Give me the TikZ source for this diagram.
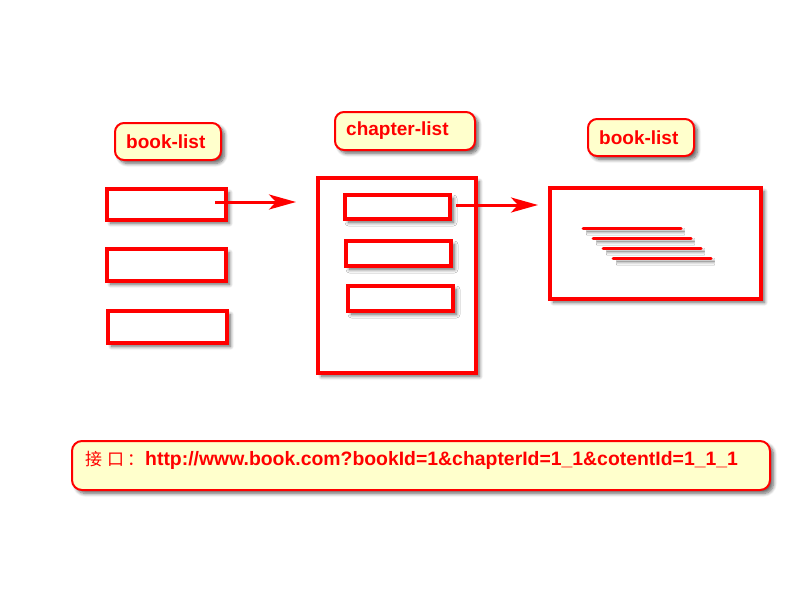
\documentclass[tikz,border=0pt]{standalone}
\usepackage{fontspec}
\setmainfont{Liberation Sans}
\newfontfamily\cjk{Noto Sans CJK SC}
\usetikzlibrary{shadows.blur,arrows.meta}
\definecolor{lblfill}{HTML}{FFFFCC}
\tikzset{
  shad/.style={blur shadow={shadow xshift=3.5pt,shadow yshift=-3.5pt,shadow blur steps=8,shadow blur radius=3.5pt,shadow opacity=60}},
  lbl/.style={draw=red,line width=2pt,fill=lblfill,rounded corners=9pt,shad,anchor=north west,inner sep=0pt},
  lbltxt/.style={anchor=west,inner sep=0pt,text=red,font=\bfseries\fontsize{19}{21}\selectfont},
  rbox/.style={draw=red,line width=4pt,fill=white,shad,anchor=north west,inner sep=0pt},
  rline/.style={draw=red,line width=3pt,line cap=round,shad},
  arr/.style={draw=red,line width=3pt,-{Stealth[length=27pt,width=15pt,inset=7pt]}}
}
\begin{document}
\begin{tikzpicture}[x=1pt,y=-1pt]
\useasboundingbox (0,0) rectangle (800,600);
% labels
\node[lbl,minimum width=106pt,minimum height=37pt] (l1) at (114,122) {};
\node[lbltxt] (t1) at (126,141.5) {book-list};
\node[lbl,minimum width=140pt,minimum height=38pt] (l2) at (334,111) {};
\node[lbltxt] (t2) at (346,131) {chapter-list};
\node[lbl,minimum width=106pt,minimum height=37pt] (l3) at (587,118) {};
\node[lbltxt] (t3) at (599,137.5) {book-list};
% left boxes (outer sizes minus line width)
\node[rbox,minimum width=119pt,minimum height=31pt] (b1) at (105,187) {};
\node[rbox,minimum width=119pt,minimum height=32pt] (b2) at (105,247) {};
\node[rbox,minimum width=119pt,minimum height=32pt] (b3) at (106,309) {};
% chapter container
\node[rbox,minimum width=158pt,minimum height=195pt] (c0) at (316,176) {};
\node[rbox,minimum width=105pt,minimum height=24pt] (c1) at (343,193) {};
\node[rbox,minimum width=105pt,minimum height=25pt] (c2) at (344,239) {};
\node[rbox,minimum width=105pt,minimum height=25pt] (c3) at (346,284) {};
% right box
\node[rbox,minimum width=211pt,minimum height=111pt] (r0) at (548,186) {};
\coordinate (s1) at (583,228); \coordinate (e1) at (681,228);
\coordinate (s2) at (593,238); \coordinate (e2) at (691,238);
\coordinate (s3) at (603,248); \coordinate (e3) at (701,248);
\coordinate (s4) at (613,258); \coordinate (e4) at (711,258);
\draw[rline] (s1) -- (e1);
\draw[rline] (s2) -- (e2);
\draw[rline] (s3) -- (e3);
\draw[rline] (s4) -- (e4);
% arrows
\coordinate (a1s) at (215,202); \coordinate (a1e) at (296,202);
\coordinate (a2s) at (456,205); \coordinate (a2e) at (538,205);
\draw[arr] (a1s) -- (a1e);
\draw[arr] (a2s) -- (a2e);
% bottom box
\node[lbl,minimum width=698pt,minimum height=49pt,rounded corners=10pt] (bot) at (71,440) {};
\node[anchor=west,inner sep=0pt,text=red] (btxt) at (85,460) {{\cjk\fontsize{17}{19}\selectfont 接\hspace{5pt}口\hspace{3pt}：}\hspace{1pt}{\bfseries\fontsize{19.4}{21}\selectfont http://www.book.com?bookId=1\&chapterId=1\_1\&cotentId=1\_1\_1}};
\end{tikzpicture}
\end{document}
